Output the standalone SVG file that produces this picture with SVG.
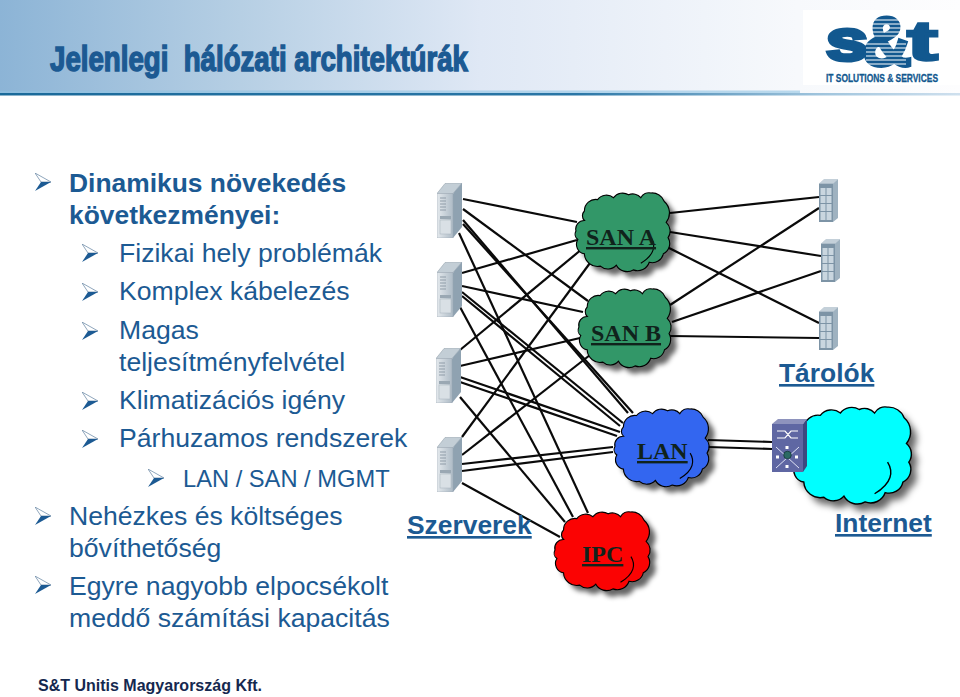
<svg xmlns="http://www.w3.org/2000/svg" xmlns:xlink="http://www.w3.org/1999/xlink" width="960" height="697" viewBox="0 0 960 697">
<style>
.t{font-family:"Liberation Sans",Arial,sans-serif;font-size:26.6px;fill:#1c5a93}
.b{font-weight:bold;font-size:26.4px}
.lab{font-family:"Liberation Sans",Arial,sans-serif;font-size:26.4px;font-weight:bold;fill:#1c5a93;text-decoration:underline}
.cl{font-family:"Liberation Serif","Times New Roman",serif;font-size:24px;font-weight:bold;fill:#10231c;text-decoration:underline}
.c line{stroke:#0a0a0a;stroke-width:2.2}
.cs{fill:#000;fill-opacity:.6;filter:url(#blur)}
.co{stroke:#000;stroke-width:1.2;vector-effect:non-scaling-stroke}
.ci{fill:none;stroke:#000;stroke-width:1.2;vector-effect:non-scaling-stroke}
</style>
<defs>
<linearGradient id="hd" x1="0" x2="1" y1="0" y2="0">
<stop offset="0" stop-color="#8cb4d6"/><stop offset=".25" stop-color="#b6cfe4"/><stop offset=".5" stop-color="#dfe8f5"/><stop offset=".83" stop-color="#f7f9fc"/><stop offset="1" stop-color="#fdfdfe"/>
</linearGradient>
<linearGradient id="ln" x1="0" x2="1" y1="0" y2="0">
<stop offset="0" stop-color="#1a6a9a"/><stop offset=".6" stop-color="#2a76a6"/><stop offset=".85" stop-color="#9ec3dc"/><stop offset="1" stop-color="#cfe0ee"/>
</linearGradient>
<linearGradient id="sf" x1="0" x2="1" y1="0" y2="0"><stop offset="0" stop-color="#e4e9ed"/><stop offset="1" stop-color="#aebbc6"/></linearGradient>
<filter id="blur" x="-20%" y="-20%" width="140%" height="140%"><feGaussianBlur stdDeviation="3"/></filter>
<path id="cp" d="M10 20A12 12 0 0 1 24 8A12 12 0 0 1 41 6A12 12 0 0 1 57 3A11 11 0 0 1 70 6A10 10 0 0 1 81 1A14 14 0 0 1 95 10A16 16 0 0 1 97 32A12 12 0 0 1 99 48A12 12 0 0 1 94 65A12 12 0 0 1 79 74A13 13 0 0 1 62 82A13 13 0 0 1 44 77A12 12 0 0 1 27 78A14 14 0 0 1 10 65A10 10 0 0 1 3 50A7 7 0 0 1 1 41A9 9 0 0 1 10 30A7 7 0 0 1 10 20Z"/>
<path id="ca" d="M81 48C86 56 85 66 70 75"/>
<symbol id="srv" width="26" height="55" viewBox="0 0 26 55">
<polygon points="0,10.5 8,.5 25,0 16,10.5" fill="#c3ced6" stroke="#8b99a4" stroke-width=".5"/>
<polygon points="16,10.5 25,0 25,44 16,55" fill="#8fa2b1"/>
<polygon points="0,10.5 16,10.5 16,55 0,55" fill="url(#sf)" stroke="#9aa7b2" stroke-width=".5"/>
<path d="M3 15H9M3 18H9M3 21H9M3 24H9M3 27H9" stroke="#8f9ca8" stroke-width="1"/>
<rect x="3" y="33" width="11" height="3" fill="#9aa8b3"/>
<rect x="3" y="37" width="11" height="14" fill="#d9e0e5" stroke="#a6b2bc" stroke-width=".5"/>
</symbol>
<symbol id="sto" width="19" height="43" viewBox="0 0 19 43">
<polygon points="0,4.5 5,0 19,0 14,4.5" fill="#c4d0d9"/>
<polygon points="14,4.5 19,0 19,39 14,43" fill="#9fb2c0"/>
<rect y="4.5" width="14" height="38.5" fill="#7d94a6"/>
<path d="M1.5 9h5v7h-5zM7.500 9h5v7h-5zM1.500 17h5v7h-5zM7.500 17h5v7h-5zM1.500 25h5v7h-5zM7.500 25h5v7h-5zM1.500 33h5v8h-5zM7.500 33h5v8h-5z" fill="#c9d6df"/>
</symbol>
<symbol id="bu" width="16" height="18" viewBox="0 0 16 18">
<polygon points="0,0 16,9 6,9" fill="#fff" stroke="#5f7f9f" stroke-width=".7"/>
<polygon points="0,18 16,9 6,9" fill="#1c5a93"/>
</symbol>
</defs>

<rect width="960" height="697" fill="#fff"/>
<rect id="header" width="960" height="93" fill="url(#hd)"/>
<rect y="90.500" width="800" height="2.500" fill="#8fc3e3" opacity=".6"/>
<rect y="93" width="960" height="2.500" fill="url(#ln)"/>
<rect x="803" y="10" width="157" height="75" fill="#fff"/>
<text x="50" y="71" textLength="418" lengthAdjust="spacingAndGlyphs" font-family="'Liberation Sans',Arial,sans-serif" font-size="35" font-weight="bold" fill="#1c5a93" stroke="#1c5a93" stroke-width="1.500" style="white-space:pre">Jelenlegi  hálózati architektúrák</text>

<g id="logo" font-family="'Liberation Sans',Arial,sans-serif" font-weight="bold" fill="#12588f">
<text x="826" y="60" font-size="58" textLength="42" lengthAdjust="spacingAndGlyphs" stroke="#12588f" stroke-width="4">s</text>
<text x="862" y="66" font-size="70" textLength="50" lengthAdjust="spacingAndGlyphs" stroke="#12588f" stroke-width="3">&amp;</text>
<path d="M866 20H906M866 24H906M866 28H906M866 32H906M866 36H906M866 44H906M866 48H906M866 52H906M866 56H906M866 60H906M866 64H906" stroke="#fff" stroke-width="1.200"/>
<text x="907" y="60" font-size="56" textLength="31" lengthAdjust="spacingAndGlyphs" stroke="#12588f" stroke-width="2.500">t</text>
<text x="826" y="81.500" font-size="10.500" textLength="112" lengthAdjust="spacingAndGlyphs" stroke="#12588f" stroke-width=".3">IT SOLUTIONS &amp; SERVICES</text>
</g>

<g id="bullets">
<use xlink:href="#bu" href="#bu" x="35" y="173"/>
<use xlink:href="#bu" href="#bu" x="82" y="244"/>
<use xlink:href="#bu" href="#bu" x="82" y="283"/>
<use xlink:href="#bu" href="#bu" x="82" y="322"/>
<use xlink:href="#bu" href="#bu" x="82" y="392"/>
<use xlink:href="#bu" href="#bu" x="82" y="430"/>
<use xlink:href="#bu" href="#bu" x="148" y="469"/>
<use xlink:href="#bu" href="#bu" x="35" y="507"/>
<use xlink:href="#bu" href="#bu" x="35" y="576"/>
</g>
<g id="list">
<text class="t b" x="69" y="192">Dinamikus növekedés</text>
<text class="t b" x="69" y="224">következményei:</text>
<text class="t" x="119" y="262">Fizikai hely problémák</text>
<text class="t" x="119" y="300">Komplex kábelezés</text>
<text class="t" x="119" y="339">Magas</text>
<text class="t" x="119" y="371">teljesítményfelvétel</text>
<text class="t" x="119" y="409">Klimatizációs igény</text>
<text class="t" x="119" y="447">Párhuzamos rendszerek</text>
<text class="t" x="183" y="487" style="font-size:23.7px">LAN / SAN / MGMT</text>
<text class="t" x="69" y="525">Nehézkes és költséges</text>
<text class="t" x="69" y="557">bővíthetőség</text>
<text class="t" x="69" y="595">Egyre nagyobb elpocsékolt</text>
<text class="t" x="69" y="627">meddő számítási kapacitás</text>
</g>

<g id="connectors" class="c">
<line x1="463" y1="199" x2="577" y2="222"/>
<line x1="463" y1="209" x2="588" y2="301"/>
<line x1="463" y1="220" x2="628" y2="413"/>
<line x1="463" y1="224" x2="633" y2="413"/>
<line x1="459" y1="233" x2="588" y2="513"/>
<line x1="462" y1="273" x2="577" y2="240"/>
<line x1="462" y1="286" x2="583" y2="312"/>
<line x1="462" y1="292" x2="623" y2="423"/>
<line x1="462" y1="296" x2="620" y2="426"/>
<line x1="460" y1="307" x2="573" y2="517"/>
<line x1="460" y1="350" x2="582" y2="249"/>
<line x1="460" y1="366" x2="580" y2="338"/>
<line x1="460" y1="377" x2="620" y2="432"/>
<line x1="460" y1="382" x2="617" y2="436"/>
<line x1="460" y1="397" x2="565" y2="522"/>
<line x1="462" y1="437" x2="590" y2="263"/>
<line x1="462" y1="455" x2="590" y2="355"/>
<line x1="462" y1="464" x2="613" y2="447"/>
<line x1="462" y1="471" x2="613" y2="452"/>
<line x1="462" y1="483" x2="560" y2="537"/>
<line x1="670" y1="213" x2="819" y2="197"/>
<line x1="670" y1="232" x2="821" y2="256"/>
<line x1="663" y1="245" x2="819" y2="323"/>
<line x1="670" y1="305" x2="819" y2="208"/>
<line x1="672" y1="322" x2="821" y2="271"/>
<line x1="670" y1="336" x2="819" y2="338"/>
<line x1="708" y1="440" x2="772" y2="442"/>
<line x1="708" y1="447" x2="772" y2="449"/>
</g>

<g id="server-1"><use xlink:href="#srv" href="#srv" x="437" y="183"/></g>
<g id="server-2"><use xlink:href="#srv" href="#srv" x="437" y="262"/></g>
<g id="server-3"><use xlink:href="#srv" href="#srv" x="436" y="348"/></g>
<g id="server-4"><use xlink:href="#srv" href="#srv" x="437" y="437"/></g>
<text id="label-szerverek" class="lab" x="407" y="534">Szerverek</text>

<g id="storage-1"><use xlink:href="#sto" href="#sto" x="819" y="179"/></g>
<g id="storage-2"><use xlink:href="#sto" href="#sto" x="821" y="239"/></g>
<g id="storage-3"><use xlink:href="#sto" href="#sto" x="819" y="307"/></g>
<text id="label-tarolok" class="lab" x="779" y="382">Tárolók</text>

<g id="san-a">
<use xlink:href="#cp" href="#cp" class="cs" transform="translate(581 198) scale(.94 .95)"/>
<g transform="translate(575 192) scale(.94 .95)"><use xlink:href="#cp" href="#cp" class="co" fill="#329768"/><use xlink:href="#ca" href="#ca" class="ci"/></g>
<text class="cl" x="586" y="245">SAN A</text>
</g>
<g id="san-b">
<use xlink:href="#cp" href="#cp" class="cs" transform="translate(584 294) scale(.92 .95)"/>
<g transform="translate(578 288) scale(.92 .95)"><use xlink:href="#cp" href="#cp" class="co" fill="#329768"/></g>
<text class="cl" x="591" y="341">SAN B</text>
</g>
<g id="lan">
<use xlink:href="#cp" href="#cp" class="cs" transform="translate(620 414) scale(.94 .94)"/>
<g transform="translate(614 408) scale(.94 .94)"><use xlink:href="#cp" href="#cp" class="co" fill="#3366f0"/><use xlink:href="#ca" href="#ca" class="ci"/></g>
<text class="cl" x="637" y="459">LAN</text>
</g>
<g id="ipc">
<use xlink:href="#cp" href="#cp" class="cs" transform="translate(560 517) scale(.95 .95)"/>
<g transform="translate(554 511) scale(.95 .95)"><use xlink:href="#cp" href="#cp" class="co" fill="#fb0303"/><use xlink:href="#ca" href="#ca" class="ci"/></g>
<text class="cl" x="582" y="562">IPC</text>
</g>
<g id="internet">
<use xlink:href="#cp" href="#cp" class="cs" transform="translate(798 413) scale(1.18 1.17)"/>
<g transform="translate(792 406) scale(1.18 1.17)"><use xlink:href="#cp" href="#cp" class="co" fill="#00ffff"/><use xlink:href="#ca" href="#ca" class="ci"/></g>
<text class="lab" x="835" y="532">Internet</text>
</g>
<g id="switch">
<polygon points="772,424 778,419 807,419 803,424" fill="#8e93bd"/>
<polygon points="803,424 807,419 807,466 803,472" fill="#3b4a80"/>
<rect x="772" y="424" width="31" height="48" fill="#5f67a3"/>
<path d="M777 431H785L791 438H798M777 438H785L791 431H798" fill="none" stroke="#fff" stroke-width="1.200"/>
<path d="M776 447L799 468M799 447L776 468" stroke="#dfe3f5" stroke-width="1"/>
<path d="M787 449v-3M787 465v3M779 457h-3M795 457h3" stroke="#fff" stroke-width="3"/>
<circle cx="787.500" cy="455" r="3.800" fill="#2b6a63" stroke="#0f2f2f" stroke-width=".7"/>
</g>
<text id="footer" x="38" y="691" font-family="'Liberation Sans',Arial,sans-serif" font-size="16" font-weight="bold" fill="#15284f">S&amp;T Unitis Magyarország Kft.</text>
</svg>
